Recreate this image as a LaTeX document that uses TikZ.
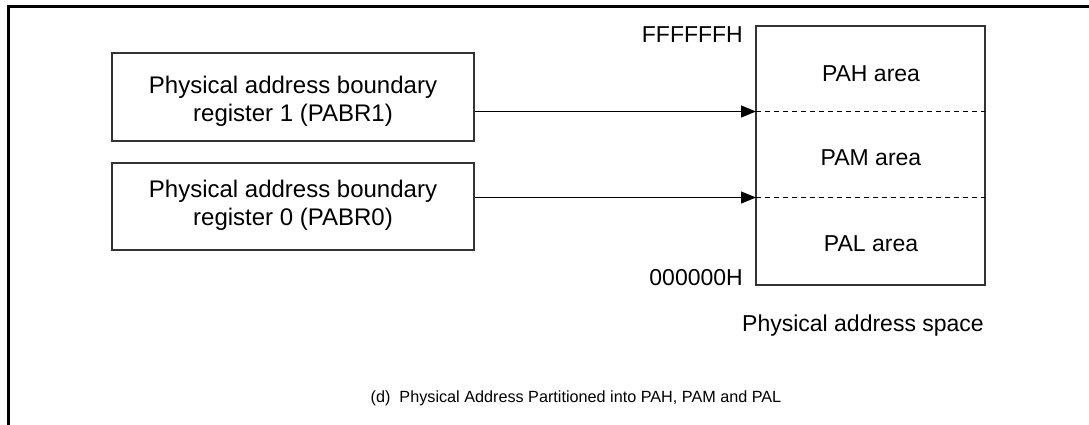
\documentclass[tikz,border=0pt]{standalone}
\usepackage{fontspec}
\setmainfont{Liberation Sans}
\usetikzlibrary{arrows.meta}
\begin{document}
\begin{tikzpicture}[x=1pt,y=-1pt,
  every node/.style={font=\fontsize{23}{28}\selectfont, inner sep=0pt},
  regbox/.style={draw=black!80, line width=1.1pt},
  regtext/.style={align=center, font=\fontsize{24}{28}\selectfont},
  conn/.style={line width=0.9pt, -{Triangle[length=15pt,width=12pt]}},
  part/.style={dashed, line width=0.8pt, dash pattern=on 5pt off 4pt}]
\useasboundingbox (0,0) rectangle (1089,425);
\draw[line width=3pt] (8.5,425) -- (8.5,6.5) -- (1089,6.5);
\node[regbox, minimum width=362pt, minimum height=88pt] (r1) at (293,97) {};
\node[regtext] (t1) at (293,101) {Physical address boundary\\register 1 (PABR1)};
\node[regbox, minimum width=362pt, minimum height=87pt] (r0) at (293,206.5) {};
\node[regtext] (t0) at (293,205) {Physical address boundary\\register 0 (PABR0)};
\node[regbox, minimum width=229pt, minimum height=259pt] (sp) at (870.5,155.5) {};
\coordinate (c1) at (756,111.5);
\coordinate (c0) at (756,197.5);
\coordinate (d1) at (985,111.5);
\coordinate (d0) at (985,197.5);
\draw[part] (c1) -- (d1);
\draw[part] (c0) -- (d0);
\draw[conn] (r1.east |- c1) -- (c1);
\draw[conn] (r0.east |- c0) -- (c0);
\node (pah) at (871,74) {PAH area};
\node (pam) at (871,158) {PAM area};
\node (pal) at (871,244) {PAL area};
\node[anchor=north east] (top) at (743,26) {FFFFFFH};
\node[anchor=base east] (bot) at (743,285) {000000H};
\node (cap1) at (863,326) {Physical address space};
\node[font=\fontsize{16.2}{19}\selectfont] (cap2) at (576,398) {(d)\ \ Physical Address Partitioned into PAH, PAM and PAL};
\end{tikzpicture}
\end{document}
